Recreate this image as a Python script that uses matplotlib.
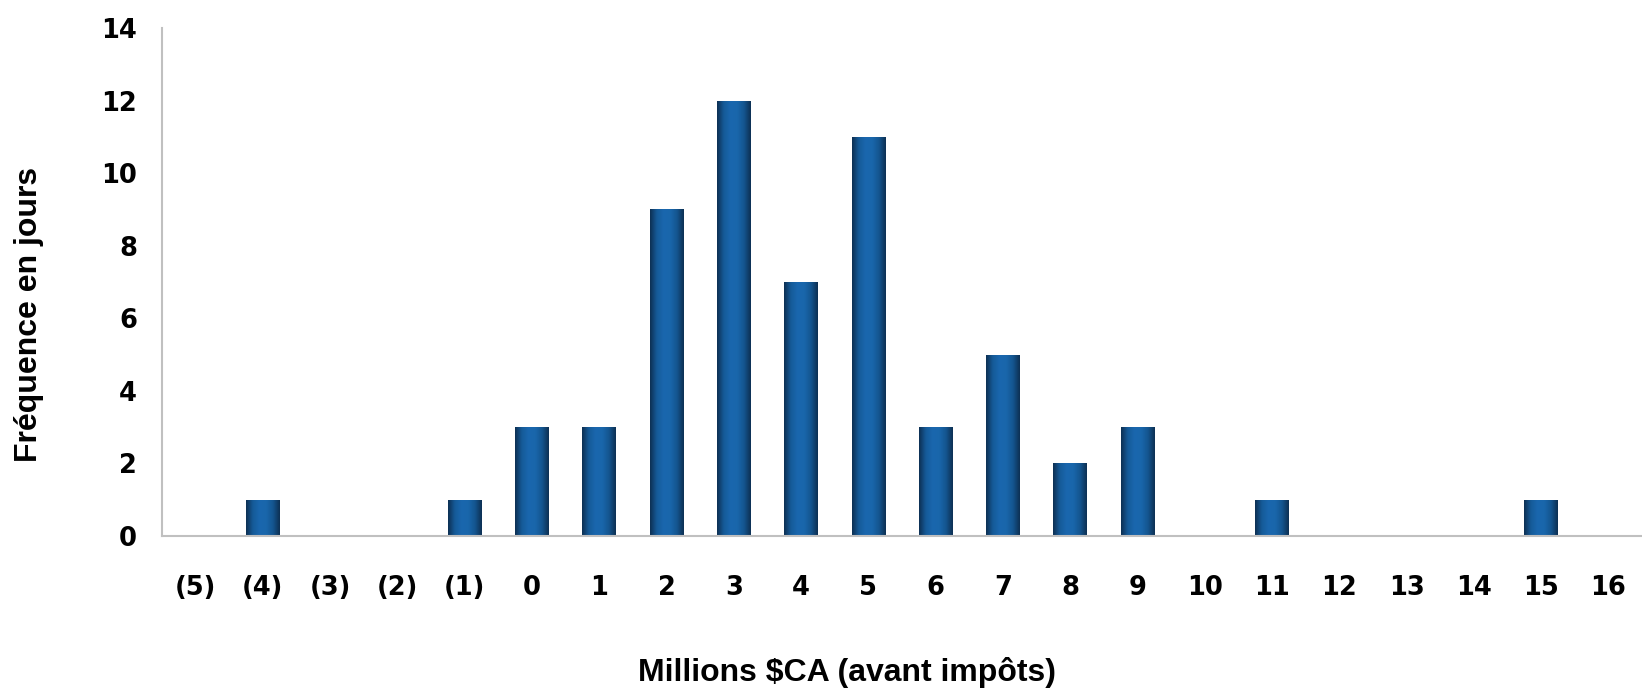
import matplotlib.pyplot as plt
from matplotlib.colors import LinearSegmentedColormap
import numpy as np

# histogram of daily P&L, millions CAD
categories = ['(5)', '(4)', '(3)', '(2)', '(1)', '0', '1', '2', '3', '4', '5',
              '6', '7', '8', '9', '10', '11', '12', '13', '14', '15', '16']
frequency = [0, 1, 0, 0, 1, 3, 3, 9, 12, 7, 11, 3, 5, 2, 3, 0, 1, 0, 0, 0, 1, 0]

fig = plt.figure(figsize=(16.42, 6.89), dpi=100)
ax = fig.add_axes([162 / 1642, 1 - 536 / 689, 1 - 162 / 1642, (536 - 28) / 689])

# horizontal shading: dark edges, lighter centre
shade = LinearSegmentedColormap.from_list(
    'shade', ['#0d2f52', '#155a98', '#1a67ae', '#1966ab', '#14558f', '#0d2f52'])
grad = np.linspace(0, 1, 256).reshape(1, -1)

x = np.arange(len(categories))
bars = ax.bar(x, frequency, width=0.5, color='none', edgecolor='none')
for b in bars:
    if b.get_height() <= 0:
        continue
    x0, w, h = b.get_x(), b.get_width(), b.get_height()
    im = ax.imshow(grad, cmap=shade, aspect='auto', extent=[x0, x0 + w, 0, h],
                   interpolation='bicubic', zorder=2)
    im.set_clip_path(b)

ax.set_xlim(-0.5, len(categories) - 0.5)
ax.set_ylim(0, 14)
ax.set_yticks(range(0, 15, 2))
ax.set_xticks(x)
ax.set_xticklabels(categories)

for s in ['top', 'right']:
    ax.spines[s].set_visible(False)
for s in ['left', 'bottom']:
    ax.spines[s].set_color('#c0c0c0')
    ax.spines[s].set_linewidth(1.5)
    ax.spines[s].set_zorder(3)

ax.tick_params(axis='both', length=0, labelsize=18.5)
ax.tick_params(axis='x', pad=28)
ax.tick_params(axis='y', pad=18)
for lbl in ax.get_xticklabels() + ax.get_yticklabels():
    lbl.set_fontweight('bold')
    lbl.set_family('DejaVu Sans')

fig.text(847 / 1642, 1 - 673 / 689, 'Millions $CA (avant impôts)', ha='center', va='center',
         fontsize=23, fontweight='bold', family='Liberation Sans')
fig.text(29 / 1642, 1 - 314 / 689, 'Fréquence en jours', ha='center', va='center',
         rotation=90, fontsize=23, fontweight='bold', family='Liberation Sans')

fig.savefig('out.png', dpi=100)
